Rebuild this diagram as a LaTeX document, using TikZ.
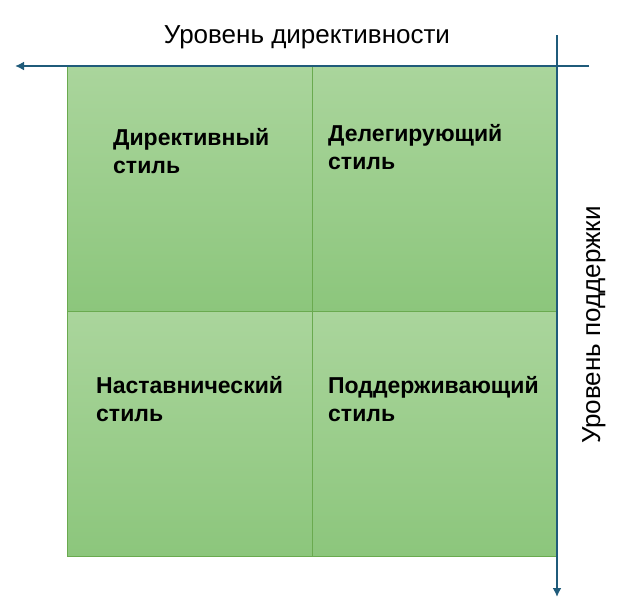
\documentclass[tikz,border=0pt]{standalone}
\usepackage{fontspec}
\setmainfont{Liberation Sans}
\usetikzlibrary{arrows.meta}
\definecolor{axis}{HTML}{1F5B7A}
\definecolor{celltop}{HTML}{AAD59C}
\definecolor{cellbot}{HTML}{8CC67C}
\definecolor{cellline}{HTML}{6AAA4F}
\begin{document}
\begin{tikzpicture}[x=1pt,y=-1pt,
  cell/.style={minimum width=245pt,minimum height=245pt,inner sep=0pt,
    top color=celltop,bottom color=cellbot,draw=cellline,line width=0.8pt},
  lbl/.style={font=\fontsize{23}{28}\selectfont\bfseries,align=left,anchor=base west,inner sep=0pt},
  axistext/.style={font=\fontsize{26}{30}\selectfont,inner sep=0pt},
  axisline/.style={draw=axis,line width=2pt,-{Latex[length=9pt,width=9pt]}}]
\useasboundingbox (0,0) rectangle (623,611);
\node[cell,anchor=north west] (tl) at (67,66) {};
\node[cell,anchor=north west] (tr) at (312,66) {};
\node[cell,anchor=north west] (bl) at (67,311) {};
\node[cell,anchor=north west] (br) at (312,311) {};
\node[lbl] (l1) at (113,173) {Директивный\\стиль};
\node[lbl] (l2) at (328,169) {Делегирующий\\стиль};
\node[lbl] (l3) at (96,421) {Наставнический\\стиль};
\node[lbl] (l4) at (328,421) {Поддерживающий\\стиль};
\coordinate (hs) at (589,66);
\coordinate (he) at (15,66);
\coordinate (vs) at (557,35);
\coordinate (ve) at (557,597);
\draw[axisline] (hs) -- (he);
\draw[axisline] (vs) -- (ve);
\node[axistext,anchor=base] (tt) at (307,43) {Уровень директивности};
\node[axistext,rotate=90,anchor=base] (vt) at (600,325) {Уровень поддержки};
\end{tikzpicture}
\end{document}
